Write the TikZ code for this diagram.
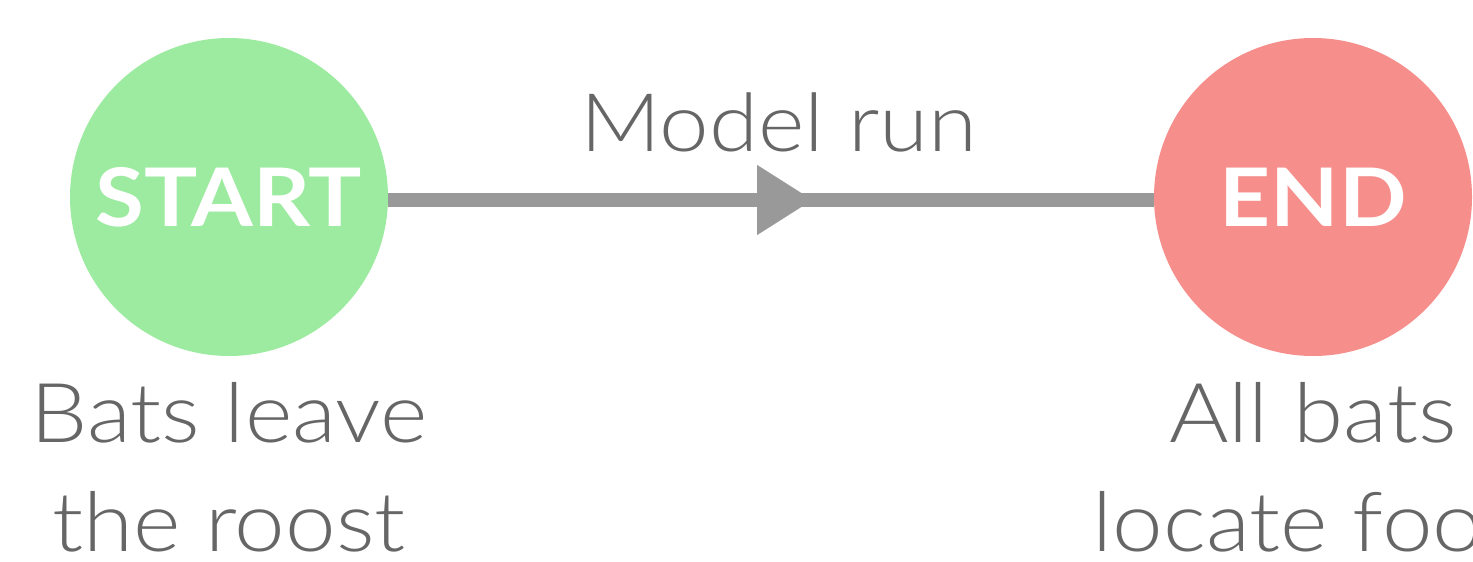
\documentclass[tikz,border=0pt]{standalone}
\usepackage{fontspec}
\setmainfont{Lato}[UprightFont=* Light, BoldFont=* Bold, FakeStretch=1.1]
\usetikzlibrary{arrows.meta,decorations.markings}
\definecolor{startgreen}{HTML}{9DEBA0}
\definecolor{endred}{HTML}{F68E8B}
\definecolor{linegray}{HTML}{999999}
\definecolor{textgray}{HTML}{666666}
\begin{document}
\begin{tikzpicture}[x=0.02cm,y=-0.02cm,
  statecircle/.style={circle,minimum size=318*0.02cm,inner sep=0pt,text=white,font=\fontsize{46}{46}\selectfont\bfseries},
  caption/.style={text=textgray,font=\fontsize{47}{62}\selectfont,align=center},
  flow/.style={draw=linegray,line width=14*0.02cm,
    postaction={decorate},
    decoration={markings,mark=at position 0.555 with {\arrow{Triangle[length=56*0.02cm,width=66*0.02cm]}}}}]
\useasboundingbox (0,0) rectangle (1473,561);
\clip (0,0) rectangle (1473,561);
\node[statecircle,fill=startgreen] (start) at (229,197) {START};
\node[statecircle,fill=endred] (end) at (1313,197) {END};
\draw[flow,linegray] ([yshift=-3*0.02cm]start.east) -- ([yshift=-3*0.02cm]end.west);
\node[caption,anchor=base,font=\fontsize{46}{62}\selectfont] (model) at (779,151) {Model run};
\node[caption,anchor=north] (startlbl) at (229,376) {Bats leave\\the roost};
\node[caption,anchor=north] (endlbl) at (1313,376) {All bats\\locate food};
\end{tikzpicture}
\end{document}
